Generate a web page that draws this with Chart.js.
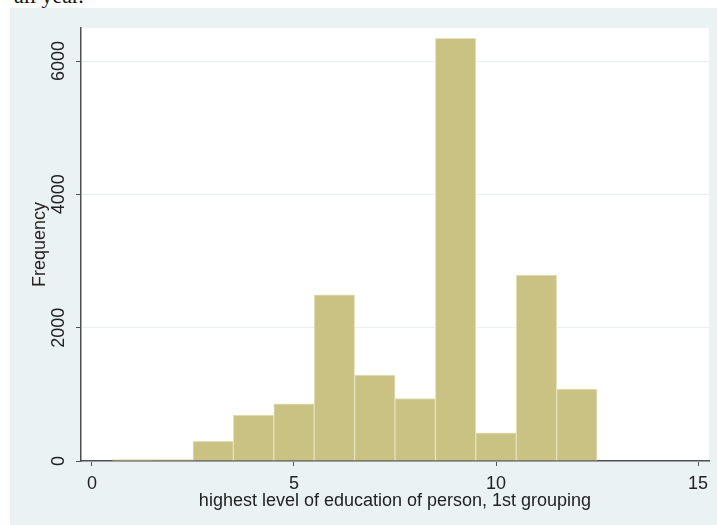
<!DOCTYPE html>
<html>
<head>
<meta charset="utf-8">
<script src="https://cdn.jsdelivr.net/npm/chart.js@4.4.1/dist/chart.umd.min.js"></script>
<style>
  html, body { margin: 0; padding: 0; background: #fff; overflow: hidden; }
  body { width: 717px; height: 525px; position: relative; }
  #caption {
    position: absolute; left: 14px; top: -15px;
    font: 22px/22px "Liberation Serif", "Times New Roman", serif;
    color: #111; white-space: nowrap;
  }
  #frame {
    position: absolute; left: 10px; top: 8px;
    width: 707px; height: 517px; background: #eaf2f3;
  }
</style>
</head>
<body>
<div id="caption">all year.</div>
<div id="frame"><canvas id="hist"></canvas></div>
<script>
// education level bins (centres) and counts
var levels = [1, 2, 3, 4, 5, 6, 7, 8, 9, 10, 11, 12];
var counts = [20, 22, 296, 687, 857, 2492, 1289, 938, 6340, 421, 2787, 1077];
var xTicks = [0, 5, 10, 15];
var yTicks = [0, 2000, 4000, 6000];

var axisColor = '#4f4f4f';
var gridColor = '#e8f0f2';

Chart.defaults.font.family = '"Liberation Sans", Arial, sans-serif';
Chart.defaults.font.size = 18;
Chart.defaults.color = '#222';

// white plot region on the tinted background
var plotBg = {
  id: 'plotBg',
  beforeDraw: function(chart) {
    var a = chart.chartArea, ctx = chart.ctx;
    ctx.save();
    ctx.fillStyle = '#ffffff';
    ctx.fillRect(a.left, a.top, a.right - a.left, a.bottom - a.top);
    ctx.restore();
  }
};

function plain(v) { return String(v); }

var hist = document.getElementById('hist');
if (hist) {
  new Chart(hist, {
    type: 'bar',
    data: {
      datasets: [{
        label: 'Frequency',
        data: levels.map(function(l, i) { return {x: l, y: counts[i]}; }),
        backgroundColor: 'rgb(201,194,130)',
        borderColor: 'rgb(228,225,188)',
        borderWidth: 1,
        barPercentage: 1,
        categoryPercentage: 1
      }]
    },
    options: {
      responsive: true,
      maintainAspectRatio: false,
      animation: false,
      layout: { padding: { top: 20, right: 8, left: 0, bottom: 0 } },
      plugins: {
        legend: { display: false },
        tooltip: { enabled: false }
      },
      scales: {
        x: {
          type: 'linear',
          min: -0.27,
          max: 15.27,
          offset: false,
          z: 1,
          afterBuildTicks: function(s) { s.ticks = xTicks.map(function(v) { return {value: v}; }); },
          afterFit: function(s) { s.height = 64; },
          grid: { offset: false, drawOnChartArea: false, tickLength: 5, tickColor: axisColor, tickWidth: 1 },
          border: { color: axisColor, width: 1.5 },
          ticks: { padding: 7, maxRotation: 0, callback: plain },
          title: {
            display: true,
            text: 'highest level of education of person, 1st grouping',
            color: '#222',
            padding: { top: 0, bottom: 13 }
          }
        },
        y: {
          min: 0,
          max: 6495,
          afterBuildTicks: function(s) { s.ticks = yTicks.map(function(v) { return {value: v}; }); },
          afterFit: function(s) { s.width = 71; },
          grid: { color: gridColor, lineWidth: 1, tickLength: 5, tickColor: axisColor, tickWidth: 1 },
          border: { color: axisColor, width: 1.5 },
          ticks: { minRotation: 90, maxRotation: 90, crossAlign: 'center', padding: -3, callback: plain },
          title: {
            display: true,
            text: 'Frequency',
            color: '#2a2222',
            padding: { top: 19, bottom: 0 }
          }
        }
      }
    },
    plugins: [plotBg]
  });
}
</script>
</body>
</html>
